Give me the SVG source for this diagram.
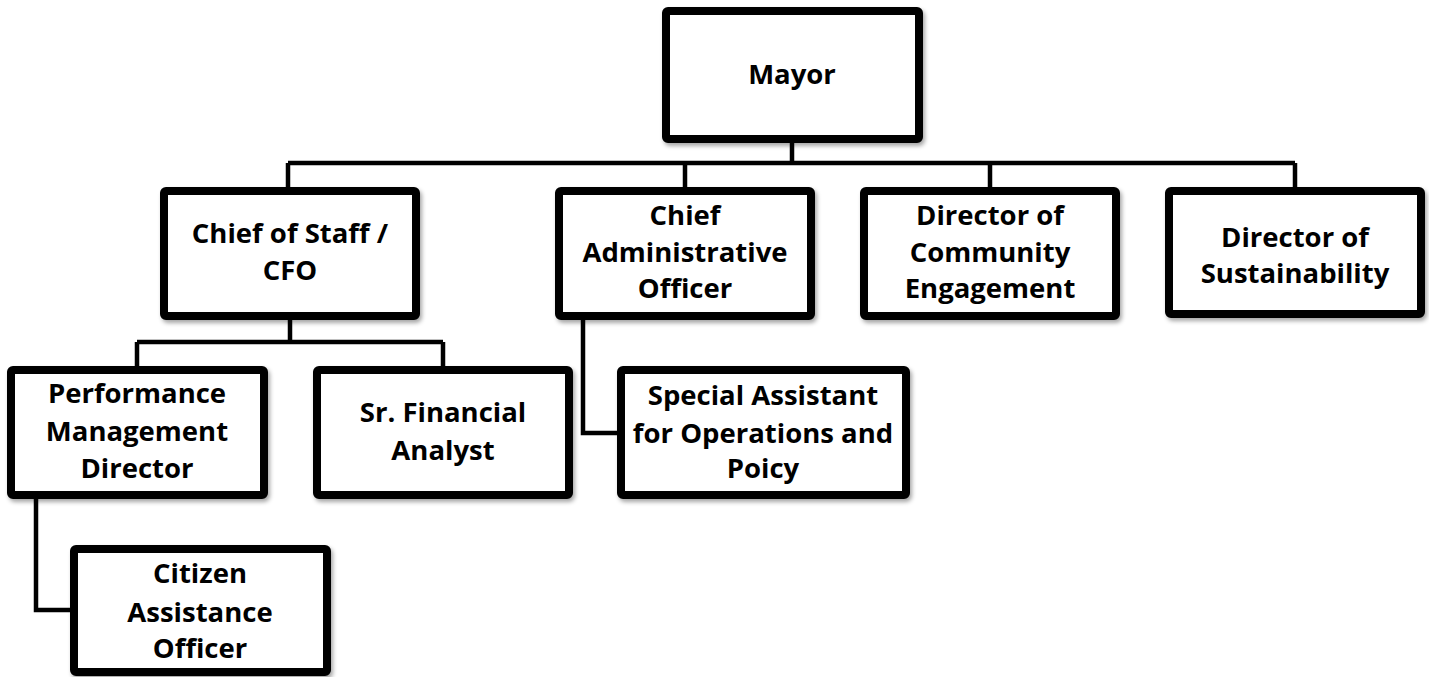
<svg xmlns="http://www.w3.org/2000/svg" width="1429" height="677" viewBox="0 0 1429 677">
<defs>
<filter id="sh" x="-10%" y="-10%" width="125%" height="130%">
<feDropShadow dx="2" dy="3" stdDeviation="2" flood-color="#000" flood-opacity="0.35"/>
</filter>
<style>
.box{fill:#fff;stroke:#000;stroke-width:8;filter:url(#sh)}
.t{font-family:"Open Sans",Lato,"Liberation Sans",sans-serif;font-weight:700;font-size:27.5px;text-anchor:middle;fill:#000}
.c{fill:none;stroke:#000;stroke-width:4.5;stroke-linejoin:miter}
</style>
</defs>
<rect width="1429" height="677" fill="#fff"/>
<g id="connectors">
<path class="c" d="M792,143 V163 M288,163 H1295 M288,163 V187 M685,163 V187 M990,163 V187 M1295,163 V187"/>
<path class="c" d="M290,320 V342 M137,342 H443 M137,342 V366 M443,342 V366"/>
<path class="c" d="M583,320 V433 H617"/>
<path class="c" d="M36,499 V610 H70"/>
</g>
<g id="mayor">
<rect class="box" x="666" y="11" width="253" height="128" rx="2"/>
<text class="t" x="792" y="84">Mayor</text>
</g>
<g id="chief-of-staff">
<rect class="box" x="164" y="191" width="252" height="125" rx="2"/>
<text class="t" x="290" y="243">Chief of Staff /</text>
<text class="t" x="290" y="280">CFO</text>
</g>
<g id="chief-admin">
<rect class="box" x="559" y="191" width="252" height="125" rx="2"/>
<text class="t" x="685" y="225">Chief</text>
<text class="t" x="685" y="262">Administrative</text>
<text class="t" x="685" y="298">Officer</text>
</g>
<g id="community">
<rect class="box" x="864" y="191" width="252" height="125" rx="2"/>
<text class="t" x="990" y="225">Director of</text>
<text class="t" x="990" y="262">Community</text>
<text class="t" x="990" y="298">Engagement</text>
</g>
<g id="sustainability">
<rect class="box" x="1169" y="191" width="252" height="123" rx="2"/>
<text class="t" x="1295" y="247">Director of</text>
<text class="t" x="1295" y="283">Sustainability</text>
</g>
<g id="performance">
<rect class="box" x="11" y="370" width="253" height="125" rx="2"/>
<text class="t" x="137" y="403">Performance</text>
<text class="t" x="137" y="441">Management</text>
<text class="t" x="137" y="478">Director</text>
</g>
<g id="sr-financial">
<rect class="box" x="317" y="370" width="252" height="125" rx="2"/>
<text class="t" x="443" y="422">Sr. Financial</text>
<text class="t" x="443" y="460">Analyst</text>
</g>
<g id="special-assistant">
<rect class="box" x="621" y="370" width="285" height="125" rx="2"/>
<text class="t" x="763" y="405">Special Assistant</text>
<text class="t" x="763" y="443">for Operations and</text>
<text class="t" x="763" y="478">Poicy</text>
</g>
<g id="citizen">
<rect class="box" x="74" y="549" width="253" height="123" rx="2"/>
<text class="t" x="200" y="583">Citizen</text>
<text class="t" x="200" y="622">Assistance</text>
<text class="t" x="200" y="658">Officer</text>
</g>
</svg>
